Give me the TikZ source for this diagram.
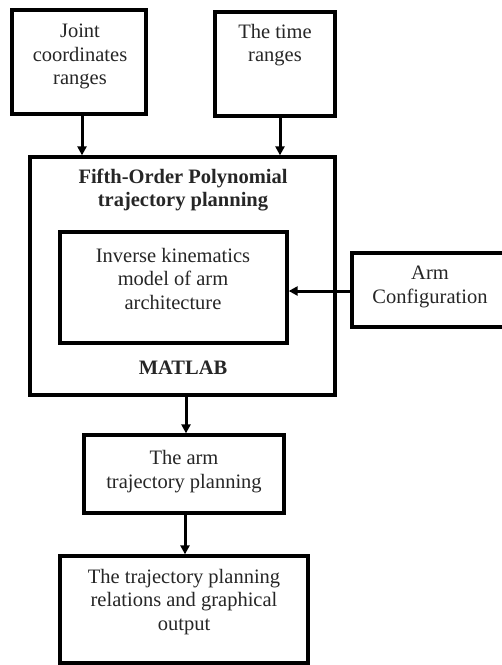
\documentclass[tikz,border=0pt]{standalone}
\usepackage{fontspec}
\setmainfont{Liberation Serif}
\usetikzlibrary{arrows.meta,calc}
\begin{document}
\begin{tikzpicture}[x=1pt,y=-1pt,
  box/.style={draw=black, line width=3.3pt, rectangle, inner sep=0pt},
  txt/.style={inner sep=0pt, align=center, text=black!85, font=\fontsize{20.5}{23.5}\selectfont},
  btxt/.style={txt, font=\fontsize{20.5}{23.5}\selectfont\bfseries},
  arr/.style={line width=3pt, -{Triangle[length=9pt,width=9pt]}}]
\useasboundingbox (0,0) rectangle (502,665);
\fill[white] (0,0) rectangle (502,665);
\clip (0,0) rectangle (502,665);
% top boxes
\node[box, minimum width=134pt, minimum height=104pt] (j) at (79,62) {};
\node[txt] (jt) at (80,56.5) {Joint\\coordinates\\ranges};
\node[box, minimum width=120pt, minimum height=104pt] (t) at (275,64) {};
\node[txt] (tt) at (275,45) {The time\\ranges};
% main box
\node[box, minimum width=305pt, minimum height=238pt] (m) at (182.5,276) {};
\node[btxt] (mt) at (183,190) {Fifth-Order Polynomial\\trajectory planning};
\node[box, minimum width=227pt, minimum height=111pt] (ik) at (173.5,287.5) {};
\node[txt] (ikt) at (173,278.5) {Inverse kinematics\\model of arm\\architecture};
\node[btxt] (ml) at (183,368) {MATLAB};
% arm configuration
\node[box, minimum width=160pt, minimum height=74pt] (a) at (432,290) {};
\node[txt] (at) at (430,287) {Arm\\Configuration};
% lower boxes
\node[box, minimum width=200pt, minimum height=78pt] (b3) at (184,474) {};
\node[txt] (b3t) at (184,471.5) {The arm\\trajectory planning};
\node[box, minimum width=248pt, minimum height=107pt] (b4) at (184,609.5) {};
\node[txt] (b4t) at (184,602) {The trajectory planning\\relations and graphical\\output};
% connectors
\draw[arr] ([xshift=3pt]j.south) -- ([xshift=3pt]j.south |- m.north);
\draw[arr] ([xshift=5pt]t.south) -- ([xshift=5pt]t.south |- m.north);
\draw[arr] (a.west |- ik.east) ++(0,3.5) coordinate (ain) -- (ain -| ik.east);
\draw[arr] ([xshift=3.5pt]m.south) -- ([xshift=3.5pt]m.south |- b3.north);
\draw[arr] ([xshift=1pt]b3.south) -- ([xshift=1pt]b3.south |- b4.north);
\end{tikzpicture}
\end{document}
